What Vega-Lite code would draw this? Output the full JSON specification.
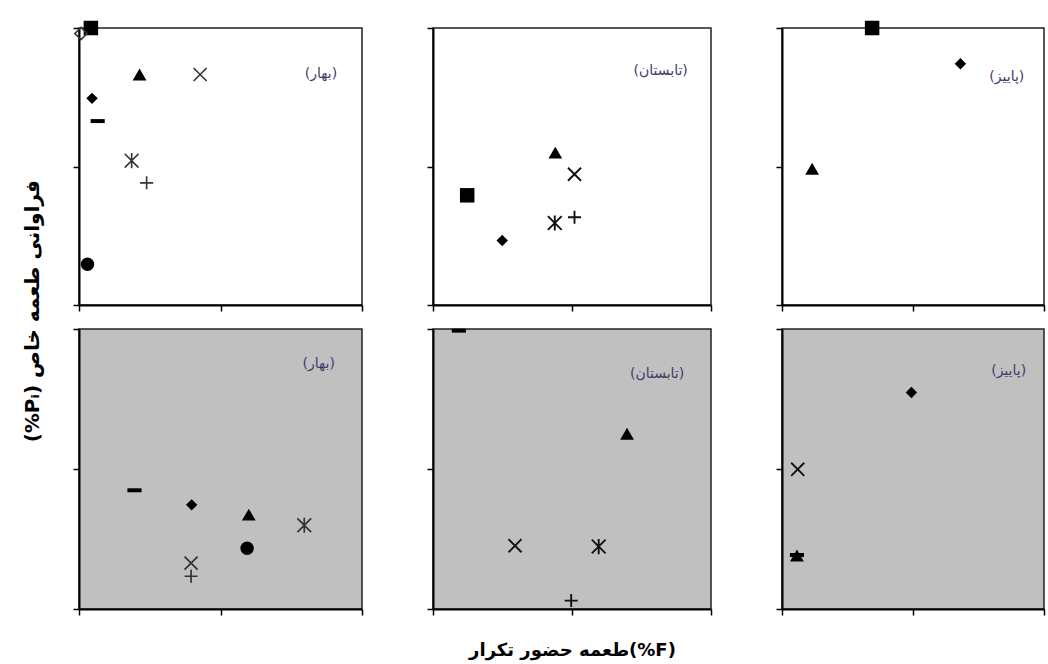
{
  "$schema": "https://vega.github.io/schema/vega-lite/v6.json",
  "background": "white",
  "padding": {"left": 22, "top": 20, "right": 2, "bottom": 4},
  "title": {"text": "\u202bفراوانی طعمه خاص (Pᵢ%)\u202c", "orient": "left", "anchor": "middle", "offset": 28, "dx": 29, "font": "DejaVu Sans", "fontSize": 20, "fontWeight": "bold", "color": "#000"},
  "datasets": {
    "pts": [
      {"panel": "TL", "series": "P9", "F": 0.7, "Pi": 98},
      {"panel": "TL", "series": "P2", "F": 4.2, "Pi": 100},
      {"panel": "TL", "series": "P3", "F": 21.4, "Pi": 83.2},
      {"panel": "TL", "series": "P4", "F": 42.8, "Pi": 83.2},
      {"panel": "TL", "series": "P1", "F": 4.6, "Pi": 74.6},
      {"panel": "TL", "series": "P8", "F": 6.6, "Pi": 66.4},
      {"panel": "TL", "series": "P5", "F": 18.6, "Pi": 52.1},
      {"panel": "TL", "series": "P7", "F": 23.9, "Pi": 44.1},
      {"panel": "TL", "series": "P6", "F": 3.0, "Pi": 14.7},
      {"panel": "TM", "series": "P3", "F": 44.0, "Pi": 55.0},
      {"panel": "TM", "series": "P4", "F": 50.9, "Pi": 47.2},
      {"panel": "TM", "series": "P2", "F": 12.3, "Pi": 39.6},
      {"panel": "TM", "series": "P5", "F": 43.8, "Pi": 29.6},
      {"panel": "TM", "series": "P7", "F": 50.9, "Pi": 31.7},
      {"panel": "TM", "series": "P1", "F": 24.9, "Pi": 23.3},
      {"panel": "TR", "series": "P2", "F": 34.4, "Pi": 100},
      {"panel": "TR", "series": "P1", "F": 68.1, "Pi": 87.1},
      {"panel": "TR", "series": "P3", "F": 11.5, "Pi": 49.2},
      {"panel": "BL", "series": "P8", "F": 19.6, "Pi": 42.4},
      {"panel": "BL", "series": "P1", "F": 39.8, "Pi": 37.2},
      {"panel": "BL", "series": "P3", "F": 60.0, "Pi": 33.7},
      {"panel": "BL", "series": "P5", "F": 79.6, "Pi": 29.9},
      {"panel": "BL", "series": "P6", "F": 59.4, "Pi": 21.7},
      {"panel": "BL", "series": "P4", "F": 39.6, "Pi": 16.4},
      {"panel": "BL", "series": "P7", "F": 39.6, "Pi": 11.7},
      {"panel": "BM", "series": "P8", "F": 9.3, "Pi": 99.4},
      {"panel": "BM", "series": "P3", "F": 69.8, "Pi": 62.6},
      {"panel": "BM", "series": "P4", "F": 29.5, "Pi": 22.6},
      {"panel": "BM", "series": "P5", "F": 59.6, "Pi": 22.3},
      {"panel": "BM", "series": "P7", "F": 49.7, "Pi": 3.0},
      {"panel": "BR", "series": "P1", "F": 49.4, "Pi": 77.3},
      {"panel": "BR", "series": "P4", "F": 6.0, "Pi": 49.9},
      {"panel": "BR", "series": "P3", "F": 5.7, "Pi": 19.1},
      {"panel": "BR", "series": "P8", "F": 5.7, "Pi": 19.3}
    ],
    "labels": [
      {"panel": "TL", "season": "(بهار)", "F": 85.5, "Pi": 83.5},
      {"panel": "TM", "season": "(تابستان)", "F": 81.9, "Pi": 84.5},
      {"panel": "TR", "season": "(پاییز)", "F": 85.8, "Pi": 82.3},
      {"panel": "BL", "season": "(بهار)", "F": 84.7, "Pi": 87.6},
      {"panel": "BM", "season": "(تابستان)", "F": 80.6, "Pi": 83.8},
      {"panel": "BR", "season": "(پاییز)", "F": 86.5, "Pi": 84.9}
    ]
  },
  "config": {
    "view": {"stroke": "#222", "strokeWidth": 1.5},
    "axis": {"labels": false, "grid": false, "domainColor": "#000", "domainWidth": 2, "tickColor": "#000", "tickWidth": 1.5, "tickSize": 6, "titleFont": "DejaVu Sans", "titleFontSize": 18, "titleFontWeight": "bold", "titleColor": "#000", "titlePadding": 26},
    "point": {"opacity": 1},
    "text": {"font": "DejaVu Sans", "fontSize": 14, "color": "#403c68"}
  },
  "spacing": 14,
  "vconcat": [
    {
      "spacing": 71,
      "bounds": "flush",
      "hconcat": [
        {
          "width": 283, "height": 277, "view": {"fill": "white"},
          "encoding": {
            "x": {"field": "F", "type": "quantitative", "scale": {"domain": [0, 100], "nice": false}, "axis": {"title": null, "values": [0, 50, 100]}},
            "y": {"field": "Pi", "type": "quantitative", "scale": {"domain": [0, 100], "nice": false}, "axis": {"title": null, "values": [0, 50, 100]}}
          },
          "layer": [
            {"data": {"name": "pts"}, "transform": [{"filter": "datum.panel === 'TL' && indexof(['P1','P2','P3','P6','P8'], datum.series) >= 0"}],
             "mark": {"type": "point", "filled": true, "color": "#000", "opacity": 1},
             "encoding": {
               "shape": {"field": "series", "type": "nominal", "legend": null, "scale": {"domain": ["P1","P2","P3","P4","P5","P6","P7","P8","P9"], "range": ["diamond","square","triangle-up","M-1,-1L1,1M-1,1L1,-1","M-1,-1L1,1M-1,1L1,-1M0,-1.1L0,1.1","circle","M-1,0L1,0M0,-1L0,1","M-1,-0.28L1,-0.28L1,0.28L-1,0.28Z","diamond"]}},
               "size": {"field": "series", "type": "nominal", "legend": null, "scale": {"type": "ordinal", "domain": ["P1","P2","P3","P4","P5","P6","P7","P8","P9"], "range": [130,210,190,170,190,180,170,200,150]}}
             }},
            {"data": {"name": "pts"}, "transform": [{"filter": "datum.panel === 'TL' && indexof(['P4','P5','P7','P9'], datum.series) >= 0"}],
             "mark": {"type": "point", "filled": false, "color": "#333", "strokeWidth": 1.6, "opacity": 1},
             "encoding": {
               "shape": {"field": "series", "type": "nominal", "legend": null, "scale": {"domain": ["P1","P2","P3","P4","P5","P6","P7","P8","P9"], "range": ["diamond","square","triangle-up","M-1,-1L1,1M-1,1L1,-1","M-1,-1L1,1M-1,1L1,-1M0,-1.1L0,1.1","circle","M-1,0L1,0M0,-1L0,1","M-1,-0.28L1,-0.28L1,0.28L-1,0.28Z","diamond"]}},
               "size": {"field": "series", "type": "nominal", "legend": null, "scale": {"type": "ordinal", "domain": ["P1","P2","P3","P4","P5","P6","P7","P8","P9"], "range": [130,210,190,170,190,180,170,200,150]}}
             }},
            {"data": {"name": "labels"}, "transform": [{"filter": "datum.panel === 'TL'"}],
             "mark": {"type": "text", "align": "center", "baseline": "middle"},
             "encoding": {"text": {"field": "season"}}}
          ]
        },
        {
          "width": 278, "height": 277, "view": {"fill": "white"},
          "encoding": {
            "x": {"field": "F", "type": "quantitative", "scale": {"domain": [0, 100], "nice": false}, "axis": {"title": null, "values": [0, 50, 100]}},
            "y": {"field": "Pi", "type": "quantitative", "scale": {"domain": [0, 100], "nice": false}, "axis": {"title": null, "values": [0, 50, 100]}}
          },
          "layer": [
            {"data": {"name": "pts"}, "transform": [{"filter": "datum.panel === 'TM' && indexof(['P1','P2','P3','P6','P8'], datum.series) >= 0"}],
             "mark": {"type": "point", "filled": true, "color": "#000", "opacity": 1},
             "encoding": {
               "shape": {"field": "series", "type": "nominal", "legend": null, "scale": {"domain": ["P1","P2","P3","P4","P5","P6","P7","P8","P9"], "range": ["diamond","square","triangle-up","M-1,-1L1,1M-1,1L1,-1","M-1,-1L1,1M-1,1L1,-1M0,-1.1L0,1.1","circle","M-1,0L1,0M0,-1L0,1","M-1,-0.28L1,-0.28L1,0.28L-1,0.28Z","diamond"]}},
               "size": {"field": "series", "type": "nominal", "legend": null, "scale": {"type": "ordinal", "domain": ["P1","P2","P3","P4","P5","P6","P7","P8","P9"], "range": [130,210,190,170,190,180,170,200,150]}}
             }},
            {"data": {"name": "pts"}, "transform": [{"filter": "datum.panel === 'TM' && indexof(['P4','P5','P7','P9'], datum.series) >= 0"}],
             "mark": {"type": "point", "filled": false, "color": "#111", "strokeWidth": 1.9, "opacity": 1},
             "encoding": {
               "shape": {"field": "series", "type": "nominal", "legend": null, "scale": {"domain": ["P1","P2","P3","P4","P5","P6","P7","P8","P9"], "range": ["diamond","square","triangle-up","M-1,-1L1,1M-1,1L1,-1","M-1,-1L1,1M-1,1L1,-1M0,-1.1L0,1.1","circle","M-1,0L1,0M0,-1L0,1","M-1,-0.28L1,-0.28L1,0.28L-1,0.28Z","diamond"]}},
               "size": {"field": "series", "type": "nominal", "legend": null, "scale": {"type": "ordinal", "domain": ["P1","P2","P3","P4","P5","P6","P7","P8","P9"], "range": [130,210,190,170,190,180,170,200,150]}}
             }},
            {"data": {"name": "labels"}, "transform": [{"filter": "datum.panel === 'TM'"}],
             "mark": {"type": "text", "align": "center", "baseline": "middle"},
             "encoding": {"text": {"field": "season"}}}
          ]
        },
        {
          "width": 262, "height": 277, "view": {"fill": "white"},
          "encoding": {
            "x": {"field": "F", "type": "quantitative", "scale": {"domain": [0, 100], "nice": false}, "axis": {"title": null, "values": [0, 50, 100]}},
            "y": {"field": "Pi", "type": "quantitative", "scale": {"domain": [0, 100], "nice": false}, "axis": {"title": null, "values": [0, 50, 100]}}
          },
          "layer": [
            {"data": {"name": "pts"}, "transform": [{"filter": "datum.panel === 'TR' && indexof(['P1','P2','P3','P6','P8'], datum.series) >= 0"}],
             "mark": {"type": "point", "filled": true, "color": "#000", "opacity": 1},
             "encoding": {
               "shape": {"field": "series", "type": "nominal", "legend": null, "scale": {"domain": ["P1","P2","P3","P4","P5","P6","P7","P8","P9"], "range": ["diamond","square","triangle-up","M-1,-1L1,1M-1,1L1,-1","M-1,-1L1,1M-1,1L1,-1M0,-1.1L0,1.1","circle","M-1,0L1,0M0,-1L0,1","M-1,-0.28L1,-0.28L1,0.28L-1,0.28Z","diamond"]}},
               "size": {"field": "series", "type": "nominal", "legend": null, "scale": {"type": "ordinal", "domain": ["P1","P2","P3","P4","P5","P6","P7","P8","P9"], "range": [130,210,190,170,190,180,170,200,150]}}
             }},
            {"data": {"name": "labels"}, "transform": [{"filter": "datum.panel === 'TR'"}],
             "mark": {"type": "text", "align": "center", "baseline": "middle"},
             "encoding": {"text": {"field": "season"}}}
          ]
        }
      ]
    },
    {
      "spacing": 71,
      "bounds": "flush",
      "hconcat": [
        {
          "width": 283, "height": 280, "view": {"fill": "#c0c0c0"},
          "encoding": {
            "x": {"field": "F", "type": "quantitative", "scale": {"domain": [0, 100], "nice": false}, "axis": {"title": null, "values": [0, 50, 100]}},
            "y": {"field": "Pi", "type": "quantitative", "scale": {"domain": [0, 100], "nice": false}, "axis": {"title": null, "values": [0, 50, 100]}}
          },
          "layer": [
            {"data": {"name": "pts"}, "transform": [{"filter": "datum.panel === 'BL' && indexof(['P1','P2','P3','P6','P8'], datum.series) >= 0"}],
             "mark": {"type": "point", "filled": true, "color": "#000", "opacity": 1},
             "encoding": {
               "shape": {"field": "series", "type": "nominal", "legend": null, "scale": {"domain": ["P1","P2","P3","P4","P5","P6","P7","P8","P9"], "range": ["diamond","square","triangle-up","M-1,-1L1,1M-1,1L1,-1","M-1,-1L1,1M-1,1L1,-1M0,-1.1L0,1.1","circle","M-1,0L1,0M0,-1L0,1","M-1,-0.28L1,-0.28L1,0.28L-1,0.28Z","diamond"]}},
               "size": {"field": "series", "type": "nominal", "legend": null, "scale": {"type": "ordinal", "domain": ["P1","P2","P3","P4","P5","P6","P7","P8","P9"], "range": [130,210,190,170,190,180,170,200,150]}}
             }},
            {"data": {"name": "pts"}, "transform": [{"filter": "datum.panel === 'BL' && indexof(['P4','P5','P7','P9'], datum.series) >= 0"}],
             "mark": {"type": "point", "filled": false, "color": "#333", "strokeWidth": 1.7, "opacity": 1},
             "encoding": {
               "shape": {"field": "series", "type": "nominal", "legend": null, "scale": {"domain": ["P1","P2","P3","P4","P5","P6","P7","P8","P9"], "range": ["diamond","square","triangle-up","M-1,-1L1,1M-1,1L1,-1","M-1,-1L1,1M-1,1L1,-1M0,-1.1L0,1.1","circle","M-1,0L1,0M0,-1L0,1","M-1,-0.28L1,-0.28L1,0.28L-1,0.28Z","diamond"]}},
               "size": {"field": "series", "type": "nominal", "legend": null, "scale": {"type": "ordinal", "domain": ["P1","P2","P3","P4","P5","P6","P7","P8","P9"], "range": [130,210,190,170,190,180,170,200,150]}}
             }},
            {"data": {"name": "labels"}, "transform": [{"filter": "datum.panel === 'BL'"}],
             "mark": {"type": "text", "align": "center", "baseline": "middle"},
             "encoding": {"text": {"field": "season"}}}
          ]
        },
        {
          "width": 278, "height": 280, "view": {"fill": "#c0c0c0"},
          "encoding": {
            "x": {"field": "F", "type": "quantitative", "scale": {"domain": [0, 100], "nice": false}, "axis": {"title": "\u200eتکرار\u200e حضور\u200e طعمه\u200e(%F)", "values": [0, 50, 100]}},
            "y": {"field": "Pi", "type": "quantitative", "scale": {"domain": [0, 100], "nice": false}, "axis": {"title": null, "values": [0, 50, 100]}}
          },
          "layer": [
            {"data": {"name": "pts"}, "transform": [{"filter": "datum.panel === 'BM' && indexof(['P1','P2','P3','P6','P8'], datum.series) >= 0"}],
             "mark": {"type": "point", "filled": true, "color": "#000", "opacity": 1},
             "encoding": {
               "shape": {"field": "series", "type": "nominal", "legend": null, "scale": {"domain": ["P1","P2","P3","P4","P5","P6","P7","P8","P9"], "range": ["diamond","square","triangle-up","M-1,-1L1,1M-1,1L1,-1","M-1,-1L1,1M-1,1L1,-1M0,-1.1L0,1.1","circle","M-1,0L1,0M0,-1L0,1","M-1,-0.28L1,-0.28L1,0.28L-1,0.28Z","diamond"]}},
               "size": {"field": "series", "type": "nominal", "legend": null, "scale": {"type": "ordinal", "domain": ["P1","P2","P3","P4","P5","P6","P7","P8","P9"], "range": [130,210,190,170,190,180,170,200,150]}}
             }},
            {"data": {"name": "pts"}, "transform": [{"filter": "datum.panel === 'BM' && indexof(['P4','P5','P7','P9'], datum.series) >= 0"}],
             "mark": {"type": "point", "filled": false, "color": "#111", "strokeWidth": 1.9, "opacity": 1},
             "encoding": {
               "shape": {"field": "series", "type": "nominal", "legend": null, "scale": {"domain": ["P1","P2","P3","P4","P5","P6","P7","P8","P9"], "range": ["diamond","square","triangle-up","M-1,-1L1,1M-1,1L1,-1","M-1,-1L1,1M-1,1L1,-1M0,-1.1L0,1.1","circle","M-1,0L1,0M0,-1L0,1","M-1,-0.28L1,-0.28L1,0.28L-1,0.28Z","diamond"]}},
               "size": {"field": "series", "type": "nominal", "legend": null, "scale": {"type": "ordinal", "domain": ["P1","P2","P3","P4","P5","P6","P7","P8","P9"], "range": [130,210,190,170,190,180,170,200,150]}}
             }},
            {"data": {"name": "labels"}, "transform": [{"filter": "datum.panel === 'BM'"}],
             "mark": {"type": "text", "align": "center", "baseline": "middle"},
             "encoding": {"text": {"field": "season"}}}
          ]
        },
        {
          "width": 262, "height": 280, "view": {"fill": "#c0c0c0"},
          "encoding": {
            "x": {"field": "F", "type": "quantitative", "scale": {"domain": [0, 100], "nice": false}, "axis": {"title": null, "values": [0, 50, 100]}},
            "y": {"field": "Pi", "type": "quantitative", "scale": {"domain": [0, 100], "nice": false}, "axis": {"title": null, "values": [0, 50, 100]}}
          },
          "layer": [
            {"data": {"name": "pts"}, "transform": [{"filter": "datum.panel === 'BR' && indexof(['P1','P2','P3','P6','P8'], datum.series) >= 0"}],
             "mark": {"type": "point", "filled": true, "color": "#000", "opacity": 1},
             "encoding": {
               "shape": {"field": "series", "type": "nominal", "legend": null, "scale": {"domain": ["P1","P2","P3","P4","P5","P6","P7","P8","P9"], "range": ["diamond","square","triangle-up","M-1,-1L1,1M-1,1L1,-1","M-1,-1L1,1M-1,1L1,-1M0,-1.1L0,1.1","circle","M-1,0L1,0M0,-1L0,1","M-1,-0.28L1,-0.28L1,0.28L-1,0.28Z","diamond"]}},
               "size": {"field": "series", "type": "nominal", "legend": null, "scale": {"type": "ordinal", "domain": ["P1","P2","P3","P4","P5","P6","P7","P8","P9"], "range": [130,210,190,170,190,180,170,200,150]}}
             }},
            {"data": {"name": "pts"}, "transform": [{"filter": "datum.panel === 'BR' && indexof(['P4','P5','P7','P9'], datum.series) >= 0"}],
             "mark": {"type": "point", "filled": false, "color": "#111", "strokeWidth": 1.9, "opacity": 1},
             "encoding": {
               "shape": {"field": "series", "type": "nominal", "legend": null, "scale": {"domain": ["P1","P2","P3","P4","P5","P6","P7","P8","P9"], "range": ["diamond","square","triangle-up","M-1,-1L1,1M-1,1L1,-1","M-1,-1L1,1M-1,1L1,-1M0,-1.1L0,1.1","circle","M-1,0L1,0M0,-1L0,1","M-1,-0.28L1,-0.28L1,0.28L-1,0.28Z","diamond"]}},
               "size": {"field": "series", "type": "nominal", "legend": null, "scale": {"type": "ordinal", "domain": ["P1","P2","P3","P4","P5","P6","P7","P8","P9"], "range": [130,210,190,170,190,180,170,200,150]}}
             }},
            {"data": {"name": "labels"}, "transform": [{"filter": "datum.panel === 'BR'"}],
             "mark": {"type": "text", "align": "center", "baseline": "middle"},
             "encoding": {"text": {"field": "season"}}}
          ]
        }
      ]
    }
  ]
}
